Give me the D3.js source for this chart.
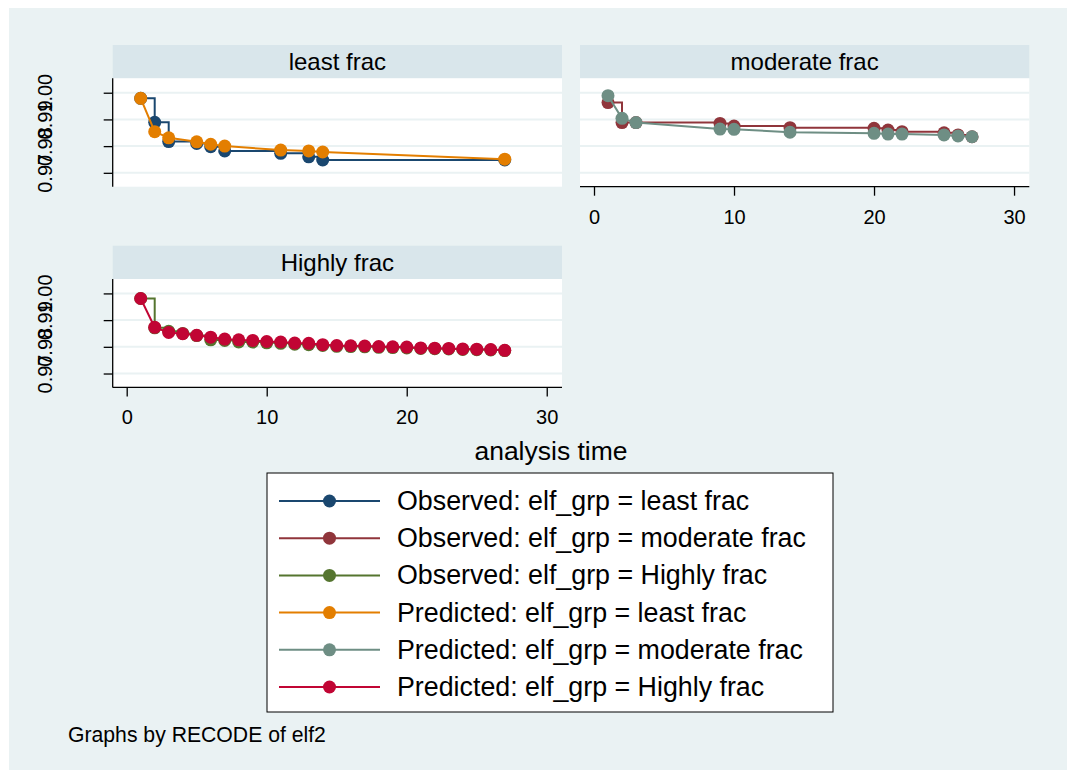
<!DOCTYPE html>
<html>
<head>
<meta charset="utf-8">
<script src="https://cdn.jsdelivr.net/npm/d3@7"></script>
<style>
  body { margin: 0; background: #ffffff; }
  text { font-family: "Liberation Sans", Arial, sans-serif; fill: #000; }
</style>
</head>
<body>
<div id="wrapper"></div>
<script>
// values
const panelNames = ["least frac", "moderate frac", "Highly frac"];

const timesLeast = [1, 2, 3, 5, 6, 7, 11, 13, 14, 27];
const obsLeast = [0.9979, 0.9889, 0.9817, 0.981, 0.9798, 0.9782, 0.9773, 0.976, 0.9748, 0.9748];
const predLeast = [0.9979, 0.9854, 0.9831, 0.9816, 0.9807, 0.98, 0.9785, 0.9782, 0.9778, 0.9751];

const timesModerate = [1, 2, 3, 9, 10, 14, 20, 21, 22, 25, 26, 27];
const obsModerate = [0.9963, 0.9888, 0.9888, 0.9885, 0.9875, 0.9869, 0.9867, 0.986, 0.9854, 0.985, 0.9842, 0.9835];
const predModerate = [0.9989, 0.9904, 0.9888, 0.9864, 0.9863, 0.9852, 0.9848, 0.9845, 0.9845, 0.9842, 0.9838, 0.9835];

const timesHighly = [1, 2, 3, 4, 5, 6, 7, 8, 9, 10, 11, 12, 13, 14, 15, 16, 17, 18, 19, 20, 21, 22, 23, 24, 25, 26, 27];
const obsHighly = [0.9981, 0.9871, 0.9858, 0.985, 0.9842, 0.9826, 0.9824, 0.9818, 0.9818, 0.9815, 0.9813, 0.981, 0.9808,
  0.9805, 0.9802, 0.9801, 0.98, 0.9798, 0.9797, 0.9796, 0.9794, 0.9793, 0.9792, 0.979, 0.9789, 0.9788, 0.9786];
const predHighly = [0.9981, 0.9873, 0.9854, 0.9849, 0.9843, 0.9836, 0.9829, 0.9826, 0.9824, 0.982, 0.9818, 0.9814, 0.9813,
  0.9808, 0.9805, 0.9804, 0.9803, 0.9801, 0.98, 0.9799, 0.9796, 0.9795, 0.9794, 0.9792, 0.9791, 0.979, 0.9787];

const xTicks = [0, 10, 20, 30];
const yTicks = [0.97, 0.98, 0.99, 1.0];

const legendLabels = [
  "Observed: elf_grp = least frac",
  "Observed: elf_grp = moderate frac",
  "Observed: elf_grp = Highly frac",
  "Predicted: elf_grp = least frac",
  "Predicted: elf_grp = moderate frac",
  "Predicted: elf_grp = Highly frac",
];
const seriesColors = ["#1a476f", "#90353b", "#55752f", "#e37e00", "#6e8e84", "#c10534"];

const width = 1067;
const height = 770;
const bg = "#eaf2f3";
const stripFill = "#d9e6eb";

const svg = d3.select("#wrapper").append("svg")
  .attr("width", width)
  .attr("height", height);

svg.append("rect")
  .attr("x", 9).attr("y", 8)
  .attr("width", width - 9).attr("height", height - 8)
  .attr("fill", bg);

// panel layout
const panelW = 449.3;
const plotH = 108.4;
const stripH = 33.3;
const panels = [
  { name: panelNames[0], x: 112.7, top: 45, times: timesLeast, obs: obsLeast, pred: predLeast, k: 0, yAxis: true, xAxis: false },
  { name: panelNames[1], x: 580, top: 45, times: timesModerate, obs: obsModerate, pred: predModerate, k: 1, yAxis: false, xAxis: true },
  { name: panelNames[2], x: 112.7, top: 245.7, times: timesHighly, obs: obsHighly, pred: predHighly, k: 2, yAxis: true, xAxis: true },
];

const xScale = d3.scaleLinear().domain([-1, 31.09]).range([0, panelW]);
const yScale = d3.scaleLinear().domain([0.9648, 1.0054]).range([plotH, 0]);

const obsLine = d3.line()
  .x(d => xScale(d.t)).y(d => yScale(d.s))
  .curve(d3.curveStepAfter);
const predLine = d3.line()
  .x(d => xScale(d.t)).y(d => yScale(d.s));

panels.forEach(p => {
  const g = svg.append("g").attr("transform", `translate(${p.x},${p.top})`);

  // strip
  g.append("rect")
    .attr("width", panelW).attr("height", stripH)
    .attr("fill", stripFill);
  g.append("text")
    .attr("x", panelW / 2).attr("y", stripH / 2 + 8.5)
    .attr("text-anchor", "middle")
    .style("font-size", "24px")
    .text(p.name);

  const plot = g.append("g").attr("transform", `translate(0,${stripH})`);
  plot.append("rect")
    .attr("width", panelW).attr("height", plotH)
    .attr("fill", "#fff");

  // grid
  plot.selectAll(".grid").data(yTicks).enter().append("line")
    .attr("x1", 0).attr("x2", panelW)
    .attr("y1", d => yScale(d)).attr("y2", d => yScale(d))
    .attr("stroke", bg).attr("stroke-width", 2);

  const obsData = p.times.map((t, i) => ({ t: t, s: p.obs[i] }));
  const predData = p.times.map((t, i) => ({ t: t, s: p.pred[i] }));
  const cObs = seriesColors[p.k];
  const cPred = seriesColors[p.k + 3];

  plot.append("path").datum(obsData)
    .attr("d", obsLine).attr("fill", "none")
    .attr("stroke", cObs).attr("stroke-width", 2);
  plot.selectAll(".obsDot").data(obsData).enter().append("circle")
    .attr("cx", d => xScale(d.t)).attr("cy", d => yScale(d.s))
    .attr("r", 6.5).attr("fill", cObs);

  plot.append("path").datum(predData)
    .attr("d", predLine).attr("fill", "none")
    .attr("stroke", cPred).attr("stroke-width", 2);
  plot.selectAll(".predDot").data(predData).enter().append("circle")
    .attr("cx", d => xScale(d.t)).attr("cy", d => yScale(d.s))
    .attr("r", 6.5).attr("fill", cPred);

  if (p.yAxis) {
    const ya = plot.append("g")
      .call(d3.axisLeft(yScale).tickValues(yTicks).tickSize(9).tickFormat(d3.format(".2f")));
    ya.select(".domain").attr("d", `M0,0V${plotH}`).attr("stroke-width", 1.3);
    ya.selectAll(".tick line").attr("stroke-width", 1.3);
    ya.selectAll(".tick text")
      .attr("x", 0).attr("y", -60.7).attr("dy", null)
      .attr("transform", "rotate(-90)")
      .attr("text-anchor", "middle")
      .style("font-family", '"Liberation Sans", Arial, sans-serif')
      .style("font-size", "20px")
      .attr("fill", "#000");
  }

  if (p.xAxis) {
    const xa = plot.append("g")
      .attr("transform", `translate(0,${plotH})`)
      .call(d3.axisBottom(xScale).tickValues(xTicks).tickSize(9));
    xa.select(".domain").attr("d", `M0,0H${panelW}`).attr("stroke-width", 1.3);
    xa.selectAll(".tick line").attr("stroke-width", 1.3);
    xa.selectAll(".tick text")
      .attr("y", 37).attr("dy", null)
      .style("font-family", '"Liberation Sans", Arial, sans-serif')
      .style("font-size", "20px")
      .attr("fill", "#000");
  }
});

// axis title
svg.append("text")
  .attr("x", 551).attr("y", 460)
  .attr("text-anchor", "middle")
  .style("font-size", "26.5px")
  .text("analysis time");

// legend
const legend = svg.append("g").attr("transform", "translate(267,473)");
legend.append("rect")
  .attr("width", 566).attr("height", 239)
  .attr("fill", "#fff").attr("stroke", "#000").attr("stroke-width", 1);

const rowY = d3.scalePoint().domain(d3.range(legendLabels.length)).range([28, 214]);
const rows = legend.selectAll(".row").data(legendLabels).enter().append("g")
  .attr("transform", (d, i) => `translate(0,${rowY(i)})`);
rows.append("line")
  .attr("x1", 12).attr("x2", 113)
  .attr("stroke", (d, i) => seriesColors[i]).attr("stroke-width", 2);
rows.append("circle")
  .attr("cx", 62.5).attr("r", 6.5)
  .attr("fill", (d, i) => seriesColors[i]);
rows.append("text")
  .attr("x", 130).attr("y", 9)
  .style("font-size", "26.8px")
  .text(d => d);

// note
svg.append("text")
  .attr("x", 68).attr("y", 742)
  .style("font-size", "21.2px")
  .text("Graphs by RECODE of elf2");
</script>
</body>
</html>
